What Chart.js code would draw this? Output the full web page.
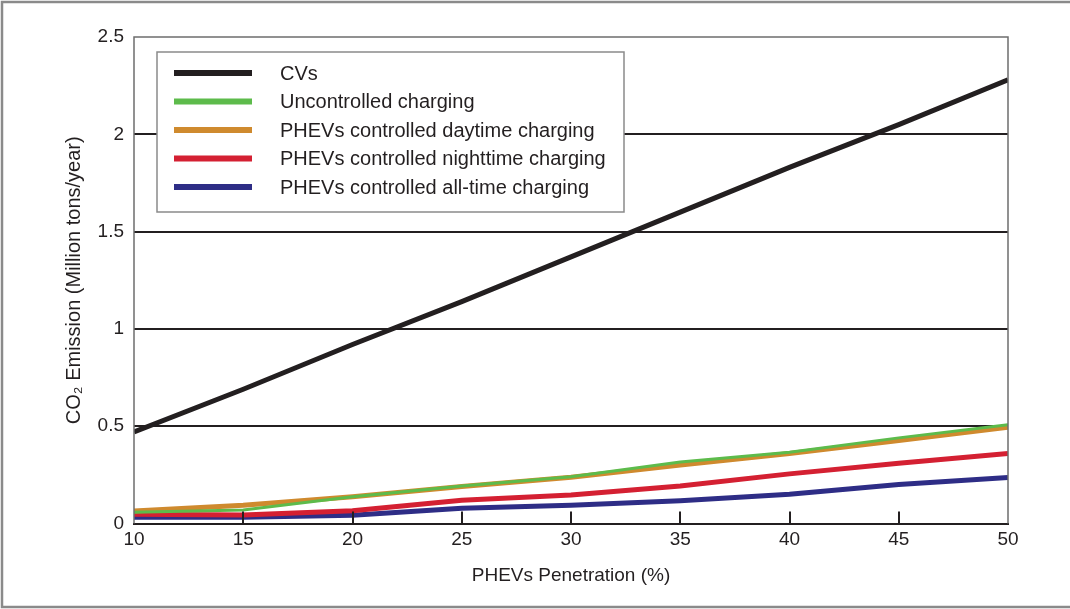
<!DOCTYPE html>
<html>
<head>
<meta charset="utf-8">
<script src="https://cdn.jsdelivr.net/npm/chart.js@4/dist/chart.umd.min.js"></script>
<style>
  html, body { margin: 0; padding: 0; background: #fff; }
  #wrap { width: 1070px; height: 609px; position: relative; }
</style>
</head>
<body>
<div id="wrap"><canvas id="chartCanvas" width="1070" height="609"></canvas></div>
<script>
// x axis: PHEVs penetration (%)
const penetration = [10, 15, 20, 25, 30, 35, 40, 45, 50];

// CO2 emission, million tons/year
const cvs        = [0.47, 0.69, 0.92, 1.14, 1.37, 1.60, 1.83, 2.05, 2.28];
const uncontrolled = [0.058, 0.07, 0.138, 0.193, 0.24, 0.316, 0.366, 0.44, 0.507];
const daytime    = [0.064, 0.094, 0.138, 0.19, 0.238, 0.30, 0.36, 0.426, 0.495];
const nighttime  = [0.047, 0.044, 0.066, 0.12, 0.147, 0.193, 0.255, 0.31, 0.36];
const allTime    = [0.032, 0.032, 0.042, 0.078, 0.094, 0.117, 0.15, 0.2, 0.236];

const yTicks = [0, 0.5, 1, 1.5, 2, 2.5];
const xTicks = [10, 15, 20, 25, 30, 35, 40, 45, 50];

const FONT = "'Liberation Sans', Arial, Helvetica, sans-serif";

function makeSet(label, values, color, width) {
  return {
    label: label,
    data: penetration.map((x, i) => ({ x: x, y: values[i] })),
    borderColor: color,
    backgroundColor: color,
    borderWidth: width,
    pointRadius: 0,
    tension: 0,
    fill: false
  };
}

// frame, inward x ticks, plot box and the boxed legend
const decorPlugin = {
  id: 'decor',
  beforeDraw(chart) {
    const c = chart.ctx;
    c.save();
    c.strokeStyle = '#8a8a8a';
    c.lineWidth = 2.5;
    c.strokeRect(2, 2, 1100, 605);
    c.restore();
  },
  afterDraw(chart) {
    const c = chart.ctx;
    const a = chart.chartArea;
    const xs = chart.scales.x;
    c.save();
    // plot border (top/left/right grey)
    c.strokeStyle = '#6e6e6e';
    c.lineWidth = 1.5;
    c.beginPath();
    c.moveTo(a.left, a.bottom);
    c.lineTo(a.left, a.top);
    c.lineTo(a.right, a.top);
    c.lineTo(a.right, a.bottom);
    c.stroke();
    // inward ticks
    c.strokeStyle = '#231f20';
    c.lineWidth = 2;
    xTicks.slice(1, -1).forEach(v => {
      const px = Math.round(xs.getPixelForValue(v));
      c.beginPath();
      c.moveTo(px, a.bottom);
      c.lineTo(px, a.bottom - 12);
      c.stroke();
    });
    // legend box
    const bx = 157, by = 52, bw = 467, bh = 160;
    c.fillStyle = '#fff';
    c.fillRect(bx, by, bw, bh);
    c.strokeStyle = '#8a8a8a';
    c.lineWidth = 1.5;
    c.strokeRect(bx, by, bw, bh);
    c.font = '20px ' + FONT;
    c.textBaseline = 'middle';
    c.textAlign = 'left';
    chart.data.datasets.forEach((ds, i) => {
      const y = 73 + i * 28.5;
      c.fillStyle = ds.borderColor;
      c.fillRect(174, y - 3, 78, 6);
      c.fillStyle = '#231f20';
      c.fillText(ds.label, 280, y + 1);
    });
    c.restore();
  }
};

function renderChart() {
  const ctx = document.getElementById('chartCanvas').getContext('2d');
  new Chart(ctx, {
    type: 'line',
    data: {
      datasets: [
        makeSet('CVs', cvs, '#231f20', 5),
        makeSet('Uncontrolled charging', uncontrolled, '#5dbb4b', 3),
        makeSet('PHEVs controlled daytime charging', daytime, '#cf8a2e', 5),
        makeSet('PHEVs controlled nighttime charging', nighttime, '#d42032', 5),
        makeSet('PHEVs controlled all-time charging', allTime, '#2e2d86', 5)
      ]
    },
    options: {
      responsive: false,
      animation: false,
      layout: { padding: { left: 0, top: 37, right: 62, bottom: 0 } },
      plugins: {
        legend: { display: false },
        tooltip: { enabled: false }
      },
      scales: {
        x: {
          type: 'linear',
          min: 10,
          max: 50,
          afterBuildTicks: s => { s.ticks = xTicks.map(v => ({ value: v })); },
          afterFit: s => { s.height = 85.5; },
          grid: { display: false, drawTicks: false },
          border: { display: true, color: '#231f20', width: 2 },
          ticks: {
            color: '#231f20',
            font: { family: FONT, size: 19 },
            padding: 5,
            maxRotation: 0
          },
          title: {
            display: true,
            text: 'PHEVs Penetration (%)',
            color: '#231f20',
            font: { family: FONT, size: 19 },
            padding: { bottom: 22, top: 0 }
          }
        },
        y: {
          min: 0,
          max: 2.5,
          afterBuildTicks: s => { s.ticks = yTicks.map(v => ({ value: v })); },
          afterFit: s => { s.width = 134; },
          grid: {
            drawTicks: false,
            lineWidth: 2,
            color: c => (c.tick && c.tick.value > 0 && c.tick.value < 2.5) ? '#231f20' : 'rgba(0,0,0,0)'
          },
          border: { display: false },
          ticks: {
            color: '#231f20',
            font: { family: FONT, size: 19 },
            padding: 10,
            callback: v => String(v)
          },
          title: {
            display: true,
            text: 'CO₂ Emission (Million tons/year)',
            color: '#231f20',
            font: { family: FONT, size: 20 },
            padding: { top: 62, bottom: 0 }
          }
        }
      }
    },
    plugins: [decorPlugin]
  });
}

window.onload = renderChart;
</script>
</body>
</html>
